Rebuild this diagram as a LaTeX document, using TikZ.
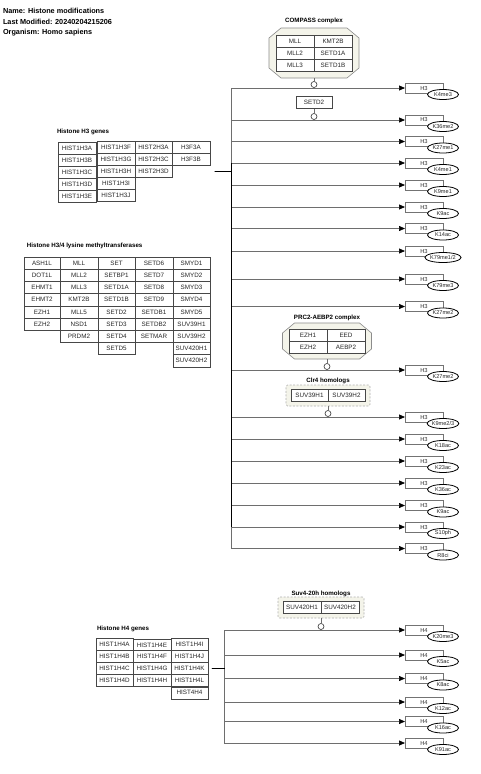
\documentclass[tikz,border=0pt]{standalone}
\usepackage{fontspec}
\setmainfont{Liberation Sans}
\usetikzlibrary{arrows.meta,fit,calc,shapes.geometric}

\definecolor{cplxfill}{HTML}{F4F4EA}
\definecolor{cplxedge}{HTML}{8C8C8C}
\definecolor{grpedge}{HTML}{B0B0B0}
\definecolor{linkgrey}{HTML}{6E6E6E}

% octagonal outline of a complex, built on the anchors of a named node
\newcommand{\octo}[1]{%
  \draw[cplxshape] ([xshift=12pt]#1.north west) -- ([xshift=-12pt]#1.north east)
    -- ([yshift=-10pt]#1.north east) -- ([yshift=10pt]#1.south east)
    -- ([xshift=-12pt]#1.south east) -- ([xshift=12pt]#1.south west)
    -- ([yshift=10pt]#1.south west) -- ([yshift=-10pt]#1.north west) -- cycle;}

\begin{document}
\begin{tikzpicture}[x=1pt,y=-1pt,
  every node/.style={inner sep=0pt, outer sep=0pt, font=\fontsize{6.3}{7}\selectfont},
  hdr/.style={anchor=west, font=\fontsize{7.3}{8}\selectfont\bfseries},
  ttl/.style={font=\fontsize{6.2}{7}\selectfont\bfseries},
  genebox/.style={draw=black!72, fill=white, line width=0.6pt, anchor=north west,
    minimum height=12pt, text=black!85},
  cplxshape/.style={draw=cplxedge, fill=cplxfill, line width=0.6pt},
  cplxarea/.style={draw=none, minimum width=#1},
  grpbox/.style={draw=grpedge, fill=cplxfill, dash pattern=on 2pt off 1.5pt,
    rounded corners=1.5pt, line width=0.6pt},
  hbox/.style={draw=black!55, fill=white, line width=0.6pt, minimum width=38pt,
    minimum height=10pt, text=black!80, font=\fontsize{5.8}{7}\selectfont},
  modell/.style={ellipse, draw=black, fill=white, line width=0.8pt, minimum width=31pt,
    minimum height=10pt, inner sep=0pt, text=black!85, font=\fontsize{5.6}{7}\selectfont},
  linkarrow/.style={draw=linkgrey, line width=0.7pt,
    -{Triangle[length=6pt,width=5pt,color=black,fill=black]}},
  busline/.style={draw=black, line width=1.5pt},
  stemline/.style={draw=linkgrey, line width=0.7pt},
  catcirc/.style={circle, draw=black!80, fill=white, line width=0.6pt, minimum size=6pt},
]
\useasboundingbox[fill=white] (0,0) rectangle (480,774);

% ---- header ----
\node[hdr] (hname) at (3,11) {Name: Histone modifications};
\node[hdr] (hmod) at (3,22) {Last Modified: 20240204215206};
\node[hdr] (horg) at (3,33) {Organism: Homo sapiens};

% ---- Histone H3 genes ----
\node[ttl, anchor=west] (h3title) at (57,132) {Histone H3 genes};
\foreach \lab [count=\i from 0] in {HIST1H3A,HIST1H3B,HIST1H3C,HIST1H3D,HIST1H3E}
  \node[genebox, minimum width=38pt] (g3a\i) at (58,{142+12*\i}) {\lab};
\foreach \lab [count=\i from 0] in {HIST1H3F,HIST1H3G,HIST1H3H,HIST1H3I,HIST1H3J}
  \node[genebox, minimum width=38pt] (g3b\i) at (97,{141+12*\i}) {\lab};
\foreach \lab [count=\i from 0] in {HIST2H3A,HIST2H3C,HIST2H3D}
  \node[genebox, minimum width=37pt] (g3c\i) at (135,{141+12*\i}) {\lab};
\foreach \lab [count=\i from 0] in {H3F3A,H3F3B}
  \node[genebox, minimum width=38pt] (g3d\i) at (172,{141+12*\i}) {\lab};
\node[fit=(g3a0)(g3a4)(g3d0), inner sep=4.5pt] (h3grp) {};

% ---- Histone H3/4 lysine methyltransferases ----
\node[ttl, anchor=west] (kmttitle) at (27,246) {Histone H3/4 lysine methyltransferases};
\foreach \lab [count=\i from 0] in {ASH1L,DOT1L,EHMT1,EHMT2,EZH1,EZH2}
  \node[genebox, minimum width=36pt, minimum height=12.2pt] (m1\i) at (24,{257+12.2*\i}) {\lab};
\foreach \lab [count=\i from 0] in {MLL,MLL2,MLL3,KMT2B,MLL5,NSD1,PRDM2}
  \node[genebox, minimum width=38pt, minimum height=12.2pt] (m2\i) at (60,{257+12.2*\i}) {\lab};
\foreach \lab [count=\i from 0] in {SET,SETBP1,SETD1A,SETD1B,SETD2,SETD3,SETD4,SETD5}
  \node[genebox, minimum width=37pt, minimum height=12.2pt] (m3\i) at (98,{257+12.2*\i}) {\lab};
\foreach \lab [count=\i from 0] in {SETD6,SETD7,SETD8,SETD9,SETDB1,SETDB2,SETMAR}
  \node[genebox, minimum width=38pt, minimum height=12.2pt] (m4\i) at (135,{257+12.2*\i}) {\lab};
\foreach \lab [count=\i from 0] in {SMYD1,SMYD2,SMYD3,SMYD4,SMYD5,SUV39H1,SUV39H2,SUV420H1,SUV420H2}
  \node[genebox, minimum width=37pt, minimum height=12.2pt] (m5\i) at (173,{257+12.2*\i}) {\lab};

% ---- Histone H4 genes ----
\node[ttl, anchor=west] (h4title) at (97,629) {Histone H4 genes};
\foreach \lab [count=\i from 0] in {HIST1H4A,HIST1H4B,HIST1H4C,HIST1H4D}
  \node[genebox, minimum width=37pt] (g4a\i) at (96,{638+12*\i}) {\lab};
\foreach \lab [count=\i from 0] in {HIST1H4E,HIST1H4F,HIST1H4G,HIST1H4H}
  \node[genebox, minimum width=38pt] (g4b\i) at (133,{639+11.7*\i}) {\lab};
\foreach \lab [count=\i from 0] in {HIST1H4I,HIST1H4J,HIST1H4K,HIST1H4L,HIST4H4}
  \node[genebox, minimum width=37pt] (g4c\i) at (171,{638+12.2*\i}) {\lab};
\node[fit=(g4a0)(g4a3)(g4c4), inner sep=3.5pt] (h4grp) {};

% ---- H3 modification targets ----
\foreach \n/\y/\m in {1/88/K4me3, 2/120/K36me2, 3/141.5/K27me1, 4/163/K4me1,
    5/185/K9me1, 6/207/K9ac, 7/228.5/K14ac, 8/251/{K79me1/2}, 9/279/K79me3,
    10/306.5/K27me2, 11/370/K27me2, 12/417/{K9me2/3}, 13/439/K18ac, 14/461/K23ac,
    15/483/K36ac, 16/505.5/K9ac, 17/527/S10ph, 18/548.5/R8ci}{
  \node[hbox] (t\n) at (424,\y) {H3};
  \node[modell] (e\n) at (443,{\y+6.5}) {\m};
}

% ---- H4 modification targets ----
\foreach \n/\y/\m in {1/630/K20me3, 2/655/K5ac, 3/678.5/K8ac, 4/702/K12ac,
    5/721.5/K16ac, 6/743/K91ac}{
  \node[hbox] (u\n) at (424,\y) {H4};
  \node[modell] (f\n) at (443,{\y+6.5}) {\m};
}

% ---- connectors from the gene groups ----
\coordinate (h3bus) at ($(h3grp.east)+(17,0)$);
\coordinate (h4bus) at ($(h4grp.east)+(13,0)$);
\foreach \n in {1,...,18}
  \draw[linkarrow] (h3grp.east) -- (h3bus) |- (t\n.west);
\foreach \n in {1,...,6}
  \draw[linkarrow] (h4grp.east) -- (h4bus) |- (u\n.west);
\draw[busline] (h3grp.east) -- (h3bus);
\draw[busline] (h3bus |- t4.west) -- (h3bus |- t17.west);
\draw[busline] (h4grp.east) -- (h4bus);

% ---- COMPASS complex ----
\node[ttl] (compasst) at (314,21) {COMPASS complex};
\node[cplxarea=90pt, minimum height=50pt] (compass) at (314,53) {};
\octo{compass}
\foreach \a/\b [count=\i from 0] in {MLL/KMT2B, MLL2/SETD1A, MLL3/SETD1B}{
  \node[genebox, minimum width=38pt] (cl\i) at (276,{35+12*\i}) {\a};
  \node[genebox, minimum width=38pt] (cr\i) at (314,{35+12*\i}) {\b};
}
\node[catcirc] (cat1) at (314,84.5) {};
\draw[stemline] (compass.south) -- (cat1.north);

% ---- SETD2 ----
\node[genebox, anchor=center, minimum width=36pt] (setd2) at (314,102.5) {SETD2};
\node[catcirc] (cat2) at (314,116.5) {};
\draw[stemline] (setd2.south) -- (cat2.north);

% ---- PRC2-AEBP2 complex ----
\node[ttl] (prc2t) at (327,318) {PRC2-AEBP2 complex};
\node[cplxarea=89pt, minimum height=36pt] (prc2) at (327,341) {};
\octo{prc2}
\node[genebox, minimum width=38pt] (p1) at (289,329) {EZH1};
\node[genebox, minimum width=38pt] (p2) at (327,329) {EED};
\node[genebox, minimum width=38pt] (p3) at (289,341) {EZH2};
\node[genebox, minimum width=38pt] (p4) at (327,341) {AEBP2};
\node[catcirc] (cat3) at (327,366.5) {};
\draw[stemline] (prc2.south) -- (cat3.north);

% ---- Clr4 homologs ----
\node[ttl] (clr4t) at (328,381) {Clr4 homologs};
\node[grpbox, minimum width=84pt, minimum height=21pt] (clr4) at (328,395.5) {};
\node[genebox, minimum width=37pt] (s1) at (291,389.5) {SUV39H1};
\node[genebox, minimum width=37pt] (s2) at (328,389.5) {SUV39H2};
\node[catcirc] (cat4) at (328,413.5) {};
\draw[stemline] (clr4.south) -- (cat4.north);

% ---- Suv4-20h homologs ----
\node[ttl] (suv4t) at (321,594) {Suv4-20h homologs};
\node[grpbox, minimum width=86pt, minimum height=21pt] (suv4) at (321,607.5) {};
\node[genebox, minimum width=38pt] (v1) at (283,601.5) {SUV420H1};
\node[genebox, minimum width=38pt] (v2) at (321,601.5) {SUV420H2};
\node[catcirc] (cat5) at (321,626.5) {};
\draw[stemline] (suv4.south) -- (cat5.north);

\end{tikzpicture}
\end{document}
